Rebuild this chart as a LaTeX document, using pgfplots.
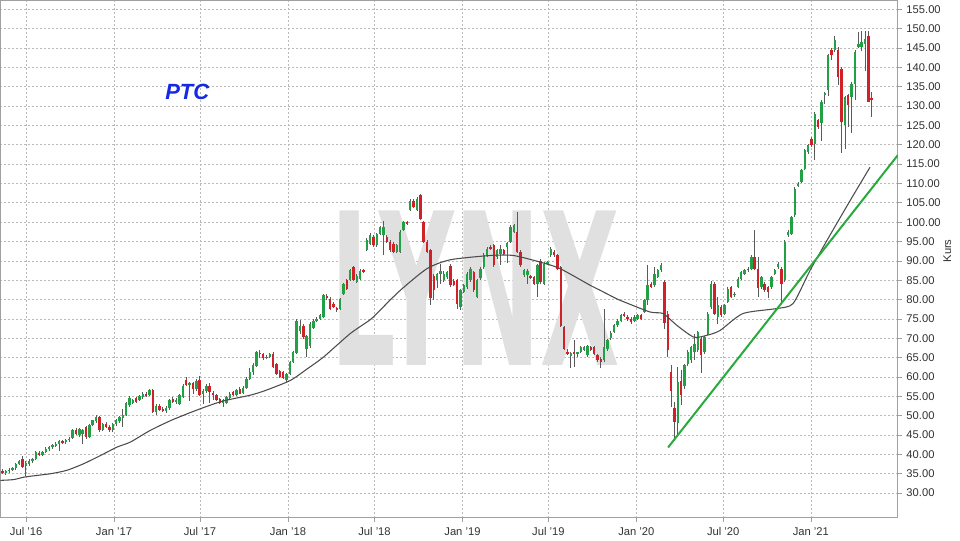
\documentclass[border=0pt]{standalone}
\usepackage{pgfplots}
\usepackage{pgfplotstable}
\usepackage{graphicx}
\usepackage{fontspec}
\setmainfont{Liberation Sans}
\newfontfamily\wmfont{DejaVu Sans}
\pgfplotsset{compat=1.18}
\definecolor{upc}{RGB}{34,160,70}
\definecolor{dnc}{RGB}{208,32,40}
\definecolor{wickc}{RGB}{90,90,90}
\definecolor{trendc}{RGB}{40,170,60}
\definecolor{titlec}{RGB}{20,40,230}
\definecolor{gridc}{RGB}{185,185,185}
\definecolor{wmc}{RGB}{224,224,224}
\definecolor{axc}{RGB}{160,160,160}
\definecolor{txc}{RGB}{50,50,50}

% weekly candles, week index = row number
\pgfplotstableread{
o h l c
35.8 36.3 35.0 35.3
35.3 36.0 34.8 35.7
35.6 36.5 35.2 36.1
36.0 36.8 35.6 36.4
36.4 37.9 36.1 37.6
37.6 38.6 37.2 38.3
38.9 39.6 36.5 36.8
37.0 38.3 34.5 37.9
37.6 38.8 37.1 38.4
38.2 39.2 37.8 38.9
38.9 40.9 38.6 40.6
40.4 40.8 39.5 39.9
39.9 40.9 39.6 40.6
40.6 41.8 40.3 41.5
41.4 42.3 41.0 42.0
41.9 42.7 41.5 42.4
42.3 43.1 41.9 42.8
42.8 43.7 41.0 43.4
43.3 43.8 42.7 43.2
43.2 44.0 42.8 43.7
43.7 44.4 43.3 44.1
44.2 46.5 44.0 46.2
46.3 46.7 45.0 45.4
45.0 46.8 44.4 46.5
45.4 46.6 42.8 46.2
47.0 47.3 44.0 44.4
44.6 47.8 44.3 47.5
47.6 49.0 47.3 48.8
48.6 50.2 48.2 49.7
49.7 50.0 45.9 46.3
46.4 48.2 46.0 47.9
47.9 48.3 46.8 47.1
47.1 47.5 45.8 46.2
46.3 48.2 45.9 47.9
47.8 49.2 47.4 48.8
48.7 49.9 48.2 49.6
49.4 51.8 47.1 50.2
50.1 53.6 49.8 53.2
52.8 55.0 52.2 54.6
53.2 54.4 52.9 54.0
54.6 54.9 53.2 53.6
54.0 55.3 53.7 55.0
54.8 56.0 54.4 55.7
55.5 56.0 54.9 55.3
55.3 56.9 55.0 56.6
56.6 57.0 50.6 50.9
51.0 53.0 50.3 52.5
52.6 53.0 51.1 51.4
51.8 52.2 50.9 51.2
51.3 52.4 50.8 52.0
51.9 54.3 51.6 54.0
54.4 54.9 53.2 53.5
53.5 54.5 53.1 54.1
53.0 55.6 52.7 55.3
54.8 58.1 54.5 57.8
59.2 60.0 57.6 57.9
57.9 58.8 53.9 58.5
58.4 58.8 55.5 56.8
56.9 59.5 56.5 59.1
59.3 60.2 55.0 55.4
55.5 57.0 53.1 56.5
56.3 58.2 55.8 57.8
57.6 58.5 53.2 56.0
55.9 56.3 54.0 55.4
55.4 55.7 53.8 54.1
54.3 54.7 52.9 53.2
53.3 54.3 52.2 54.0
53.4 55.0 53.0 54.8
54.6 56.0 54.3 55.7
56.1 56.4 55.0 55.3
55.3 56.9 55.0 56.6
57.0 57.3 55.5 55.7
55.9 57.6 55.6 57.2
57.2 60.0 56.9 59.6
59.5 62.3 59.2 61.4
61.2 63.6 60.6 63.2
62.8 66.8 62.5 66.4
66.2 67.0 65.0 66.0
66.0 66.3 64.5 64.8
64.9 65.6 64.6 65.3
65.2 66.3 64.9 66.0
66.0 66.4 62.4 62.7
63.3 63.7 60.6 60.9
61.6 61.9 59.8 60.1
61.2 61.6 59.4 59.7
59.2 61.1 58.8 60.7
60.8 64.2 60.5 63.9
63.9 66.8 63.5 66.5
66.2 75.0 66.0 74.6
72.0 74.8 71.0 73.3
73.3 73.8 69.8 70.3
67.3 70.9 65.1 70.7
68.0 74.1 67.5 73.8
72.6 75.0 72.3 74.6
74.6 75.4 74.2 75.1
75.1 76.2 74.8 75.9
75.5 81.4 75.3 81.1
80.8 81.5 80.0 80.5
80.2 80.6 77.3 77.6
78.9 79.3 77.8 78.1
77.8 78.2 76.8 77.2
77.6 80.5 77.3 80.2
81.5 84.4 81.2 84.1
85.0 85.4 82.5 82.8
85.0 87.9 84.7 87.6
88.4 88.8 84.7 85.0
84.5 86.5 84.2 86.2
85.4 87.9 85.1 87.4
87.6 88.0 86.8 87.3
92.9 95.8 92.5 95.4
94.4 97.3 94.0 96.8
96.2 96.6 93.7 94.0
94.0 97.3 93.7 97.0
97.0 99.1 96.7 98.8
96.6 100.2 91.4 98.8
96.2 96.6 94.6 94.9
94.9 95.3 92.4 92.7
94.4 94.8 92.0 92.3
92.3 94.4 92.0 94.0
92.3 97.9 92.0 97.5
97.9 100.4 97.6 100.0
99.9 100.3 99.3 99.6
103.1 106.0 102.8 105.6
105.6 106.0 103.6 103.9
103.1 106.5 102.8 106.1
107.0 107.4 100.6 100.9
100.0 100.4 94.6 94.9
94.9 95.3 92.0 92.3
92.7 93.0 78.5 80.5
86.0 86.7 80.0 82.6
85.0 87.0 83.0 86.7
86.5 89.3 84.0 87.5
85.0 87.3 84.6 86.7
85.8 87.5 85.4 87.1
88.8 89.2 83.3 83.7
84.8 85.3 83.4 83.9
85.0 85.4 77.5 78.9
78.1 82.8 77.2 82.4
82.0 84.1 81.6 83.7
83.2 87.1 82.8 86.7
85.0 88.4 84.6 88.0
87.1 87.5 82.0 82.4
80.7 85.4 80.3 85.0
85.6 88.5 85.0 88.0
88.4 92.0 88.0 91.6
91.5 93.6 91.1 93.2
93.6 94.2 92.8 93.2
94.0 94.4 88.5 88.9
91.0 93.1 90.6 92.7
91.9 94.0 89.0 93.2
92.7 93.1 91.5 91.9
93.6 94.9 89.5 94.5
94.9 99.2 94.5 98.8
97.5 99.6 97.1 99.2
97.5 102.6 92.0 92.3
92.3 92.7 88.5 88.9
86.3 88.0 85.9 87.6
86.3 88.0 84.1 87.5
86.0 86.4 85.3 85.8
85.8 86.2 83.7 84.1
84.1 89.3 80.7 88.9
90.1 90.5 84.1 84.5
84.1 89.7 83.7 89.3
89.4 90.1 89.0 89.7
91.4 93.6 91.0 93.2
92.3 92.7 91.0 91.4
91.4 91.8 87.6 88.0
88.4 88.8 72.9 73.3
72.9 73.3 67.0 67.3
66.5 67.2 65.6 66.0
65.5 66.5 62.2 66.2
66.5 69.5 62.5 65.9
65.9 66.5 65.2 66.4
66.5 68.0 66.2 67.7
66.9 68.0 66.6 67.7
65.8 68.2 65.2 67.9
67.7 68.1 66.8 66.9
67.7 68.0 65.6 66.0
65.6 66.0 63.9 64.3
64.7 65.2 62.2 63.9
64.5 77.7 64.0 67.7
67.3 69.8 66.7 69.5
70.0 72.0 69.6 71.5
71.6 73.7 71.3 73.4
73.4 74.9 73.0 74.6
74.6 76.2 74.3 75.9
76.4 76.8 75.5 75.9
75.5 76.0 74.5 75.2
75.1 75.5 73.8 74.2
74.6 75.9 74.3 75.5
75.1 76.3 74.8 75.9
75.9 76.3 74.7 75.1
76.8 80.1 76.5 79.8
79.8 88.9 78.5 83.7
84.1 84.5 82.9 83.3
83.7 88.4 83.3 86.7
85.8 88.0 85.5 87.6
87.6 89.4 87.2 88.9
84.5 85.0 72.5 74.0
76.4 77.0 65.2 66.9
61.3 63.0 52.3 56.5
52.0 53.5 43.5 48.4
48.0 62.6 45.4 58.7
59.1 61.7 52.7 55.3
57.8 63.4 57.0 63.0
63.4 67.0 62.8 66.5
64.3 68.0 63.5 67.7
66.5 71.2 64.3 68.5
66.9 71.8 66.5 71.6
69.9 70.5 61.0 65.6
66.5 70.5 66.0 70.3
71.2 76.8 70.8 76.4
78.1 84.8 77.5 84.1
84.1 84.6 76.0 76.4
75.5 80.7 73.8 78.5
78.1 78.5 75.5 75.9
76.4 78.9 75.9 78.5
79.4 83.2 79.0 82.8
83.2 83.6 80.3 80.7
81.2 82.0 80.8 81.5
83.2 85.8 82.9 85.4
85.4 87.4 85.0 87.1
86.7 88.0 86.3 87.6
88.0 88.4 87.2 87.6
88.0 91.4 87.7 91.0
91.0 97.9 87.6 88.0
88.0 91.0 80.7 83.0
83.2 86.2 82.8 85.8
84.1 84.5 82.0 82.4
83.2 83.6 80.5 82.0
83.2 86.2 82.8 85.8
86.7 88.0 86.3 87.6
88.4 89.8 88.0 89.3
88.0 88.4 79.5 84.1
85.0 95.3 84.6 94.9
96.6 97.9 96.2 97.5
97.0 101.7 96.6 101.3
101.8 109.1 101.4 108.7
109.5 110.5 109.2 109.9
110.4 113.8 110.0 113.4
113.8 119.0 113.4 118.6
118.1 120.3 117.7 119.9
121.6 122.0 119.5 119.9
120.3 128.4 116.0 128.0
126.3 126.7 124.2 124.6
125.5 131.5 121.0 131.1
132.9 133.6 130.5 133.2
134.1 143.5 132.7 143.1
144.6 145.0 142.0 143.1
144.4 148.0 144.0 147.0
144.6 145.2 135.4 137.5
139.7 140.1 118.0 125.9
125.0 132.7 119.0 132.3
132.8 133.2 124.5 130.2
132.3 136.2 123.0 135.8
135.8 144.4 131.5 144.0
145.3 149.2 145.0 146.1
145.3 149.3 144.2 146.6
146.1 149.5 139.0 147.4
148.0 149.5 131.0 131.1
132.2 133.6 127.2 131.5
}\ohlc

\pgfplotsset{
  candle/.style={only marks, mark=*, mark size=0pt,
    mark options={draw opacity=0, fill opacity=0}, forget plot},
}

\begin{document}
\begin{tikzpicture}
\begin{axis}[
  at={(0pt,0pt)}, anchor=south west,
  scale only axis,
  width=673.3pt, height=388pt,
  xmin=-0.6, xmax=267.8,
  ymin=23.7, ymax=157.3,
  axis line style={axc, line width=0.6pt},
  xtick={7.09,33.39,59.10,85.41,111.3,137.6,163.3,189.6,215.6,241.8},
  xticklabels={Jul '16,Jan '17,Jul '17,Jan '18,Jul '18,Jan '19,Jul '19,Jan '20,Jul '20,Jan '21},
  ytick={30,35,...,155},
  xtick pos=bottom, ytick pos=right, yticklabel pos=right,
  tick align=outside, major tick length=3pt,
  tick style={axc, line width=0.5pt},
  grid=major,
  major grid style={gridc, dash pattern=on 1.5pt off 1.5pt, line width=0.5pt},
  ticklabel style={font=\fontsize{8.4}{10}\selectfont, text=txc},
  /pgf/number format/assume math mode=true,
  yticklabel style={/pgf/number format/.cd, fixed, fixed zerofill, precision=2},
  xticklabel style={yshift=-1pt},
  clip=true,
]
% watermark
\node[text=wmc, inner sep=0pt] at (axis cs:141.4,82.9) {\resizebox{217.5pt}{116pt}{\wmfont\bfseries LYNX}};
% title
\node[text=titlec, font=\fontsize{16.5}{18}\selectfont\bfseries\itshape] at (axis cs:55.3,133.6) {PTC};
% wicks
\addplot[candle,
  error bars/.cd, y dir=both, y explicit, error mark=none,
  error bar style={draw=wickc, solid, line width=0.65pt}]
  table[x expr=\coordindex, y expr={(\thisrow{h}+\thisrow{l})/2}, y error expr={(\thisrow{h}-\thisrow{l})/2}] {\ohlc};
% up bodies
\addplot[candle, restrict y to domain=0:300,
  error bars/.cd, y dir=both, y explicit, error mark=none,
  error bar style={draw=upc, solid, line width=1.8pt}]
  table[x expr=\coordindex,
        y expr={\thisrow{c}<\thisrow{o} ? -100 : (\thisrow{o}+\thisrow{c})/2},
        y error expr={max(abs(\thisrow{c}-\thisrow{o})/2,0.2)}] {\ohlc};
% down bodies
\addplot[candle, restrict y to domain=0:300,
  error bars/.cd, y dir=both, y explicit, error mark=none,
  error bar style={draw=dnc, solid, line width=1.8pt}]
  table[x expr=\coordindex,
        y expr={\thisrow{c}<\thisrow{o} ? (\thisrow{o}+\thisrow{c})/2 : -100},
        y error expr={max(abs(\thisrow{c}-\thisrow{o})/2,0.2)}] {\ohlc};
% moving average
\addplot[black!70, line width=0.8pt, smooth, tension=0.4] coordinates {
(-0.6,33.3) (3.4,33.5) (6.9,34.2) (14.3,35.0) (19.3,35.9) (24.3,37.6) (29.3,39.7)
(34.3,41.9) (38.3,43.2) (44.2,46.2) (51,49.0) (59.2,51.8) (66,53.8) (74.1,55.3)
(78.6,56.5) (86.1,59.1) (91,62.0) (96.1,65.2) (104,71.2) (110,74.8) (113,77.3)
(119,82.4) (127,88.0) (134,90.3) (146,91.4) (152.8,91.4) (160.8,89.7) (166.8,88.0)
(175.8,83.7) (178.8,82.4) (181.7,81.1) (184.8,79.8) (193.7,76.8) (197.6,76.4)
(201.8,73.3) (206.8,70.3) (210.8,70.8) (214.6,72.0) (221.5,76.4) (231.7,77.7)
(236.5,79.0) (241.6,87.6) (247.5,96.6) (253.5,105.5) (259.5,114.2)
};
% trend line
\addplot[trendc, line width=1.5pt] coordinates {(199.1,41.8) (267.8,117.3)};
\end{axis}
\node[rotate=90, font=\fontsize{8.4}{10}\selectfont, text=txc] at (710.5pt,200pt) {Kurs};
\path[use as bounding box] (0pt,-17pt) rectangle (720pt,388pt);
\end{tikzpicture}
\end{document}
